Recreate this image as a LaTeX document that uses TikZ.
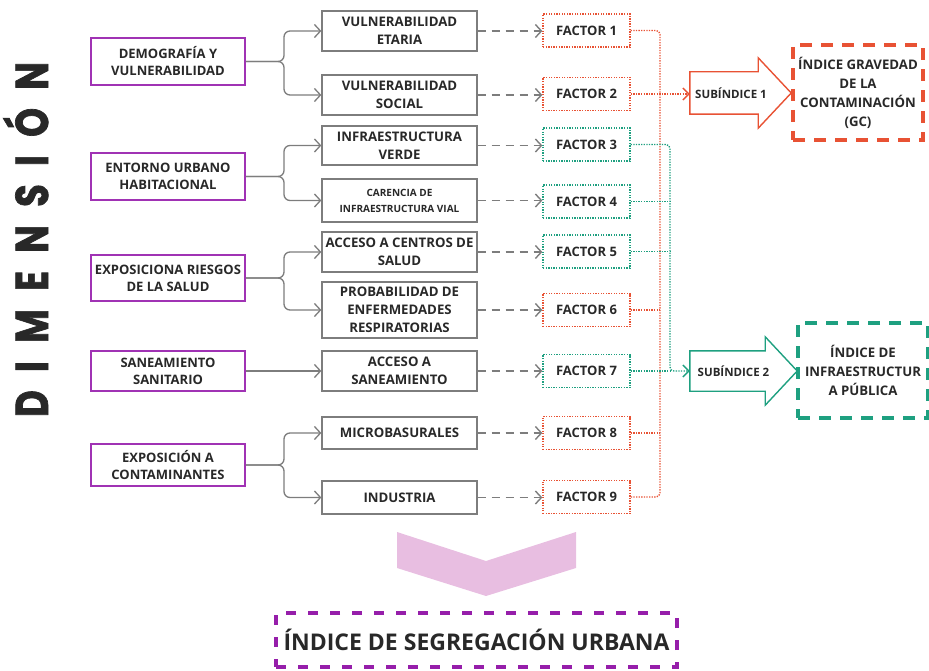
\documentclass[tikz,border=0pt]{standalone}
\usepackage{fontspec}
\setmainfont{Open Sans}
\newfontfamily\dimfont[FakeStretch=0.8, BoldFeatures={FakeBold=1.5}]{Poppins}
\usepackage{xcolor}
\usetikzlibrary{calc}
\usetikzlibrary{arrows.meta}
\definecolor{dimpurple}{RGB}{160,50,180}
\definecolor{boxgray}{RGB}{125,125,125}
\definecolor{redf}{RGB}{232,82,52}
\definecolor{greenf}{RGB}{30,160,128}
\definecolor{pinkc}{RGB}{232,190,225}
\definecolor{darkpurple}{RGB}{150,30,170}
\definecolor{txt}{RGB}{40,40,40}
\tikzset{ dim_box/.style = {rectangle, draw=dimpurple, line width=1.6pt, minimum width=154pt, align=center, text=txt, font=\bfseries\fontsize{13}{17}\selectfont} }
\tikzset{ var_box/.style = {rectangle, draw=boxgray, line width=1.3pt, minimum width=155pt, align=center, text=txt, font=\bfseries\fontsize{13.2}{18}\selectfont} }
\tikzset{ fac_box/.style = {rectangle, line width=1.3pt, dash pattern=on 1.3pt off 1.3pt, minimum width=87pt, minimum height=33pt, text=txt, font=\bfseries\fontsize{13}{15}\selectfont} }
\tikzset{ idx_box/.style = {rectangle, line width=3.5pt, dash pattern=on 12pt off 9pt, minimum width=130pt, minimum height=95pt, align=center, text=txt, font=\bfseries\fontsize{13.2}{19}\selectfont} }
\tikzset{ sub_body/.style = {rectangle, inner sep=0pt, text=txt, font=\bfseries\fontsize{11.5}{13}\selectfont} }
\tikzset{ br_line/.style = {draw=boxgray, line width=1.3pt, rounded corners=6pt, -{Straight Barb[length=6pt,width=13pt]}} }
\tikzset{ dash_arr/.style = {draw=boxgray, line width=1.4pt, dash pattern=on 8pt off 6pt, -{Straight Barb[length=6pt,width=13pt]}} }
\tikzset{ red_dot/.style = {draw=redf, line width=1.4pt, dash pattern=on 1.3pt off 1.3pt, rounded corners=4pt} }
\tikzset{ green_dot/.style = {draw=greenf, line width=1.4pt, dash pattern=on 1.3pt off 1.3pt, rounded corners=4pt} }

\begin{document}
\begin{tikzpicture}[x=1pt, y=-1pt]
    \useasboundingbox (0,0) rectangle (929,671);
    % title
    \node[rotate=90, anchor=base, inner sep=0pt, text=txt, font=\dimfont\bfseries\fontsize{46}{46}\selectfont] (dim) at (48,239.5)
        {\makebox[355pt][s]{D\hfil I\hfil M\hfil E\hfil N\hfil S\hfil I\hfil Ó\hfil N}};
    % dimensions
    \node[dim_box, minimum height=47pt] (dem) at (168,61.5) {DEMOGRAFÍA Y\\VULNERABILIDAD};
    \node[dim_box, minimum height=47pt] (ent) at (168,176.5) {ENTORNO URBANO\\HABITACIONAL};
    \node[dim_box, minimum height=46pt] (exp) at (168,278) {EXPOSICIONA RIESGOS\\DE LA SALUD};
    \node[dim_box, minimum height=40pt] (san) at (168,371) {SANEAMIENTO\\SANITARIO};
    \node[dim_box, minimum height=42pt] (con) at (168,465) {EXPOSICIÓN A\\CONTAMINANTES};
    % variables
    \node[var_box, minimum height=40pt] (vet) at (399.5,31) {VULNERABILIDAD\\ETARIA};
    \node[var_box, minimum height=40pt] (vso) at (399.5,95) {VULNERABILIDAD\\SOCIAL};
    \node[var_box, minimum height=39pt] (ive) at (399.5,145.5) {INFRAESTRUCTURA\\VERDE};
    \node[var_box, minimum height=43pt, font=\bfseries\fontsize{10}{16}\selectfont] (civ) at (399.5,200.5) {CARENCIA DE\\INFRAESTRUCTURA VIAL};
    \node[var_box, minimum height=40pt] (acs) at (399.5,252) {ACCESO A CENTROS DE\\SALUD};
    \node[var_box, minimum height=56pt] (per) at (399.5,310) {PROBABILIDAD DE\\ENFERMEDADES\\RESPIRATORIAS};
    \node[var_box, minimum height=40pt] (asa) at (399.5,371) {ACCESO A\\SANEAMIENTO};
    \node[var_box, minimum height=32pt] (mic) at (399.5,433) {MICROBASURALES};
    \node[var_box, minimum height=33pt] (ind) at (399.5,497.5) {INDUSTRIA};
    % factors
    \node[fac_box, draw=redf] (f1) at (586.5,30.5) {FACTOR 1};
    \node[fac_box, draw=redf] (f2) at (586.5,94) {FACTOR 2};
    \node[fac_box, draw=greenf] (f3) at (586.5,144.5) {FACTOR 3};
    \node[fac_box, draw=greenf] (f4) at (586.5,201.5) {FACTOR 4};
    \node[fac_box, draw=greenf] (f5) at (586.5,251.5) {FACTOR 5};
    \node[fac_box, draw=redf] (f6) at (586.5,310) {FACTOR 6};
    \node[fac_box, draw=greenf] (f7) at (586.5,371) {FACTOR 7};
    \node[fac_box, draw=redf] (f8) at (586.5,433) {FACTOR 8};
    \node[fac_box, draw=redf] (f9) at (586.5,497) {FACTOR 9};
    % subindices
    \node[sub_body, minimum height=42pt] (sub1) at (724,93) {\makebox[68pt]{\hspace{14pt}SUBÍNDICE 1}};
    \draw[redf, line width=1.4pt] (sub1.north west) -- (sub1.north east) -- ++(0,-14) -- ($(sub1.east)+(33,0)$)
        -- ($(sub1.south east)+(0,14)$) -- (sub1.south east) -- (sub1.south west) -- cycle;
    \node[sub_body, minimum height=40pt] (sub2) at (727.5,371) {\makebox[75pt]{\hspace{12pt}SUBÍNDICE 2}};
    \draw[greenf, line width=1.4pt] (sub2.north west) -- (sub2.north east) -- ++(0,-14) -- ($(sub2.east)+(32,0)$)
        -- ($(sub2.south east)+(0,14)$) -- (sub2.south east) -- (sub2.south west) -- cycle;
    % indices
    \node[idx_box, draw=redf] (igc) at (858,92.5) {ÍNDICE GRAVEDAD\\DE LA\\CONTAMINACIÓN\\(GC)};
    \node[idx_box, draw=greenf] (iip) at (863,370.5) {ÍNDICE DE\\INFRAESTRUCTUR\\A PÚBLICA};
    % brackets
    \coordinate (bx) at (284,0);
    \draw[br_line] (dem.east) -- (bx |- dem.east) |- (vet.west);
    \draw[br_line] (dem.east) -- (bx |- dem.east) |- (vso.west);
    \draw[br_line] (ent.east) -- (bx |- ent.east) |- (ive.west);
    \draw[br_line] (ent.east) -- (bx |- ent.east) |- (civ.west);
    \draw[br_line] (exp.east) -- (bx |- exp.east) |- (acs.west);
    \draw[br_line] (exp.east) -- (bx |- exp.east) |- (per.west);
    \draw[br_line] (san.east) -- (asa.west);
    \draw[br_line] (con.east) -- (bx |- con.east) |- (mic.west);
    \draw[br_line] (con.east) -- (bx |- con.east) |- (ind.west);
    % variables to factors
    \foreach \v/\f in {vet/f1, vso/f2, ive/f3, civ/f4, acs/f5, per/f6, asa/f7, mic/f8, ind/f9}
        \draw[dash_arr] (\v.east) -- (\v.east -| \f.west);
    % factors to subindices
    \coordinate (rx) at (660,0);
    \coordinate (gx) at (670,0);
    \draw[red_dot] (f1.east) -| (rx |- f9.east) -- (f9.east);
    \draw[red_dot, -{Straight Barb[length=6pt,width=12pt]}] (f2.east) -- (f2.east -| sub1.west);
    \draw[red_dot] (f6.east) -- (f6.east -| rx);
    \draw[red_dot] (f8.east) -- (f8.east -| rx);
    \draw[green_dot, -{Straight Barb[length=6pt,width=12pt]}] (f3.east) -| (gx |- sub2.west) -- (sub2.west);
    \draw[green_dot] (f4.east) -- (f4.east -| gx);
    \draw[green_dot] (f5.east) -- (f5.east -| gx);
    \draw[green_dot] (f7.east) -- (f7.east -| gx);
    % result
    \fill[pinkc] (397,532) -- (486,561) -- (576,532) -- (576,568) -- (486,596) -- (397,568) -- cycle;
    \node[rectangle, draw=darkpurple, line width=3.5pt, dash pattern=on 10pt off 12pt, minimum width=401pt, minimum height=54pt,
        text=txt, font=\bfseries\fontsize{23}{27}\selectfont] (seg) at (476.5,640) {ÍNDICE DE SEGREGACIÓN URBANA};
\end{tikzpicture}
\end{document}
